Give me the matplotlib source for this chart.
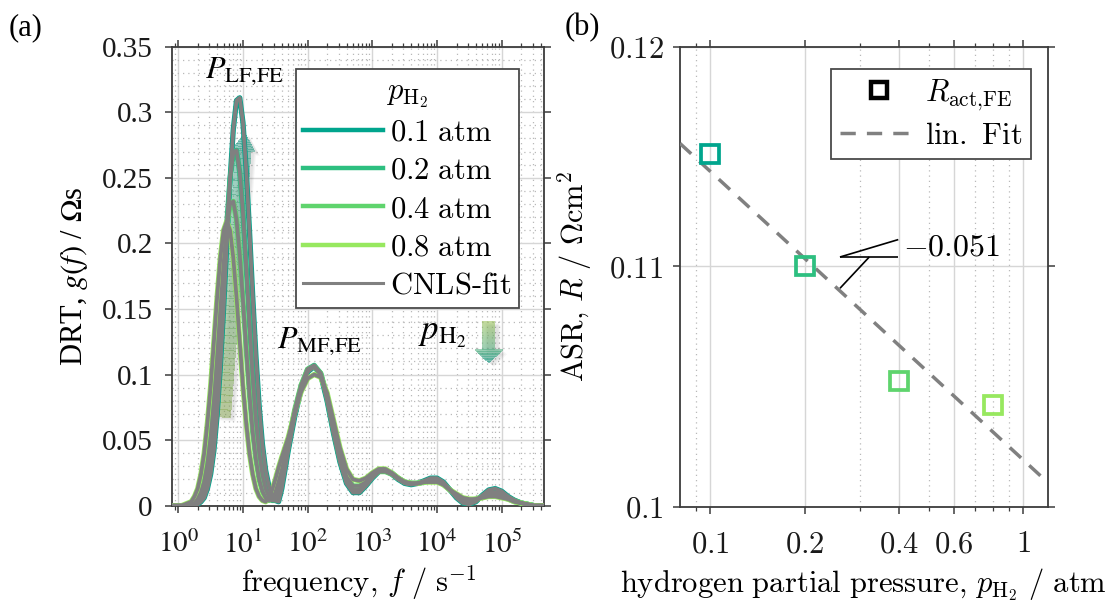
import numpy as np
import matplotlib
matplotlib.use("Agg")
import matplotlib.pyplot as plt
import matplotlib.colors as mcolors
from matplotlib.lines import Line2D
from matplotlib.patches import Polygon
from matplotlib.ticker import FixedLocator, FixedFormatter, NullLocator, NullFormatter

# ---------------- data: panel (a) DRT ----------------
LOG_F = [-0.1, 0.0, 0.05, 0.10, 0.15, 0.20, 0.25, 0.30, 0.35, 0.40, 0.45, 0.50,
         0.55, 0.60, 0.65, 0.70, 0.75, 0.80, 0.85, 0.90, 0.95, 1.00, 1.05, 1.10,
         1.15, 1.20, 1.25, 1.30, 1.35, 1.40, 1.45, 1.50, 1.55, 1.60,
         1.7, 1.8, 1.9, 2.0, 2.1, 2.2, 2.3, 2.4, 2.5, 2.6, 2.7, 2.8, 2.9, 3.0,
         3.1, 3.2, 3.3, 3.4, 3.5, 3.6, 3.7, 3.8, 3.9, 4.0, 4.1, 4.2, 4.3, 4.4,
         4.5, 4.6, 4.7, 4.8, 4.9, 5.0, 5.1, 5.2, 5.3, 5.4, 5.5, 5.6, 5.7]

DRT_01 = [0, 0, 0, 0, 0, 0, 0, 0.001, 0.003, 0.006, 0.013, 0.024,
          0.042, 0.069, 0.106, 0.150, 0.200, 0.248, 0.287, 0.309, 0.311, 0.292, 0.256, 0.210,
          0.160, 0.114, 0.076, 0.047, 0.027, 0.015, 0.007, 0.004, 0.003, 0.013,
          0.042, 0.068, 0.089, 0.102, 0.106, 0.100, 0.080, 0.055, 0.033, 0.017, 0.010, 0.010, 0.015, 0.021,
          0.026, 0.027, 0.024, 0.020, 0.017, 0.016, 0.017, 0.019, 0.021, 0.021, 0.018, 0.012, 0.006, 0.002,
          0.001, 0.003, 0.008, 0.012, 0.013, 0.011, 0.007, 0.004, 0.002, 0.001, 0.0, 0.0, 0.0]

DRT_02 = [0, 0, 0, 0, 0, 0, 0.001, 0.003, 0.006, 0.011, 0.021, 0.037,
          0.060, 0.092, 0.131, 0.174, 0.215, 0.249, 0.269, 0.271, 0.254, 0.223, 0.182, 0.139,
          0.099, 0.066, 0.041, 0.024, 0.013, 0.007, 0.004, 0.004, 0.011, 0.020,
          0.046, 0.071, 0.091, 0.104, 0.107, 0.101, 0.082, 0.057, 0.035, 0.019, 0.012, 0.012, 0.016, 0.022,
          0.026, 0.027, 0.025, 0.021, 0.018, 0.017, 0.017, 0.018, 0.020, 0.020, 0.017, 0.012, 0.007, 0.003,
          0.002, 0.004, 0.007, 0.010, 0.010, 0.009, 0.006, 0.004, 0.002, 0.001, 0.0, 0.0, 0.0]

DRT_04 = [0, 0, 0, 0, 0, 0.001, 0.002, 0.005, 0.010, 0.018, 0.032, 0.052,
          0.079, 0.112, 0.149, 0.184, 0.213, 0.230, 0.232, 0.218, 0.191, 0.156, 0.119, 0.085,
          0.056, 0.035, 0.020, 0.011, 0.006, 0.004, 0.005, 0.010, 0.018, 0.027,
          0.049, 0.073, 0.092, 0.104, 0.106, 0.101, 0.084, 0.060, 0.038, 0.022, 0.015, 0.015, 0.018, 0.023,
          0.026, 0.026, 0.024, 0.021, 0.018, 0.017, 0.017, 0.018, 0.019, 0.019, 0.016, 0.012, 0.008, 0.005,
          0.004, 0.005, 0.007, 0.008, 0.008, 0.007, 0.005, 0.003, 0.002, 0.001, 0.0, 0.0, 0.0]

DRT_08 = [0, 0, 0, 0.001, 0.002, 0.003, 0.007, 0.013, 0.024, 0.040, 0.063, 0.091,
          0.125, 0.159, 0.189, 0.210, 0.217, 0.210, 0.189, 0.159, 0.125, 0.091, 0.063, 0.040,
          0.024, 0.013, 0.007, 0.004, 0.003, 0.006, 0.012, 0.020, 0.029, 0.037,
          0.052, 0.071, 0.087, 0.097, 0.100, 0.098, 0.086, 0.065, 0.044, 0.028, 0.020, 0.019, 0.021, 0.025,
          0.028, 0.028, 0.025, 0.021, 0.018, 0.017, 0.017, 0.018, 0.018, 0.018, 0.016, 0.012, 0.009, 0.006,
          0.005, 0.005, 0.006, 0.007, 0.007, 0.006, 0.005, 0.003, 0.002, 0.001, 0.0, 0.0, 0.0]

SERIES_LABELS = ["0.1 atm", "0.2 atm", "0.4 atm", "0.8 atm"]
FIT_LABEL = "CNLS-fit"
COLORS = ["#00a58d", "#2dbf80", "#5fd46d", "#97e85f"]
FIT_COLOR = "#808080"

YTICKS_A = [0, 0.05, 0.1, 0.15, 0.2, 0.25, 0.3, 0.35]
YTICKLABELS_A = ["0", "0.05", "0.1", "0.15", "0.2", "0.25", "0.3", "0.35"]
XTICKS_A = [1e0, 1e1, 1e2, 1e3, 1e4, 1e5]
XTICKLABELS_A = [r"$10^{0}$", r"$10^{1}$", r"$10^{2}$", r"$10^{3}$", r"$10^{4}$", r"$10^{5}$"]

# ---------------- data: panel (b) ASR ----------------
P_H2 = [0.1, 0.2, 0.4, 0.8]
R_ACT = [0.1150, 0.1100, 0.1051, 0.1041]
XTICKS_B = [0.1, 0.2, 0.4, 0.6, 1.0]
XTICKLABELS_B = [r"$0.1$", r"$0.2$", r"$0.4$", r"$0.6$", r"$1$"]
XMINOR_B = [0.09, 0.3, 0.5, 0.7, 0.8, 0.9]
YTICKS_B = [0.10, 0.11, 0.12]
YTICKLABELS_B = [r"$0.1$", r"$0.11$", r"$0.12$"]
SLOPE_TEXT = r"$-0.051$"

# ---------------- style ----------------
plt.rcParams["font.family"] = ["Liberation Serif", "DejaVu Serif"]
plt.rcParams["mathtext.fontset"] = "stix"
SPINE = "#3c3c3c"
FS = 22

fig = plt.figure(figsize=(11.18, 6.08), dpi=100)
axA = fig.add_axes([0.1541, 0.1683, 0.3328, 0.7549])
axB = fig.add_axes([0.6082, 0.1666, 0.3289, 0.7566])

for ax in (axA, axB):
    for s in ax.spines.values():
        s.set_color(SPINE)
        s.set_linewidth(1.3)
    ax.set_axisbelow(True)
    ax.tick_params(which="both", direction="out", top=True, right=True,
                   color=SPINE, labelsize=21, labelcolor="#1a1a1a")
    ax.tick_params(which="major", length=5, width=1.1)
    ax.tick_params(which="minor", length=3, width=0.9)


def grad_arrow(ax, base, tip, shaft_hw, head_hw, head_len, c0, c1, alpha, n=36, z=1.5):
    bb = ax.get_position()
    W = bb.width * fig.get_figwidth() * fig.dpi
    H = bb.height * fig.get_figheight() * fig.dpi
    b = np.array([base[0] * W, base[1] * H])
    t = np.array([tip[0] * W, tip[1] * H])
    d = t - b
    L = np.hypot(*d)
    u = d / L
    nv = np.array([-u[1], u[0]])
    c0 = np.array(mcolors.to_rgb(c0))
    c1 = np.array(mcolors.to_rgb(c1))
    Ls = L - head_len
    outline = [b - nv * shaft_hw, b + u * Ls - nv * shaft_hw, b + u * Ls - nv * head_hw, t,
               b + u * Ls + nv * head_hw, b + u * Ls + nv * shaft_hw, b + nv * shaft_hw]
    for off, a in (((5, -4), 0.035), ((4, -3), 0.04), ((3, -2), 0.04)):
        pts = np.array(outline) + np.array(off)
        pts[:, 0] /= W
        pts[:, 1] /= H
        ax.add_patch(Polygon(pts, closed=True, fc="black", ec="none", alpha=a,
                             transform=ax.transAxes, zorder=z - 0.1))
    bands = []
    ss = np.linspace(0, Ls, n + 1)
    for s0, s1 in zip(ss[:-1], ss[1:]):
        bands.append((s0, s1, shaft_hw, shaft_hw))
    hs = np.linspace(Ls, L, 9)
    for s0, s1 in zip(hs[:-1], hs[1:]):
        bands.append((s0, s1, head_hw * (L - s0) / head_len, head_hw * (L - s1) / head_len))
    for s0, s1, w0, w1 in bands:
        p0 = b + u * s0
        p1 = b + u * s1
        pts = np.array([p0 - nv * w0, p1 - nv * w1, p1 + nv * w1, p0 + nv * w0])
        pts[:, 0] /= W
        pts[:, 1] /= H
        f = (s0 + s1) / (2 * L)
        col = c0 * (1 - f) + c1 * f
        ax.add_patch(Polygon(pts, closed=True, fc=col, ec="none", alpha=alpha,
                             transform=ax.transAxes, zorder=z, antialiased=False))


# ---------------- panel (a) ----------------
freq = 10 ** np.array(LOG_F)
series = [DRT_01, DRT_02, DRT_04, DRT_08]
for vals, col in zip(series, COLORS):
    axA.plot(freq, vals, color=col, lw=3.8, zorder=3, solid_capstyle="round")
for vals in series:
    axA.plot(freq, vals, color=FIT_COLOR, lw=2.7, zorder=4, solid_capstyle="round")
leg_handles = [Line2D([], [], color=c, lw=3.2) for c in COLORS] + \
              [Line2D([], [], color=FIT_COLOR, lw=2.2)]

axA.set_xscale("log")
axA.set_xlim(0.807, 4.56e5)
axA.set_ylim(0, 0.35)
axA.xaxis.set_major_locator(FixedLocator(XTICKS_A))
axA.xaxis.set_major_formatter(FixedFormatter(XTICKLABELS_A))
minors = [m * 10 ** k for k in range(-1, 6) for m in range(2, 10)]
axA.xaxis.set_minor_locator(FixedLocator(minors))
axA.xaxis.set_minor_formatter(NullFormatter())
axA.yaxis.set_major_locator(FixedLocator(YTICKS_A))
axA.yaxis.set_major_formatter(FixedFormatter(YTICKLABELS_A))
axA.yaxis.set_minor_locator(FixedLocator(list(np.arange(0.01, 0.35, 0.01))))
axA.tick_params(axis="y", which="minor", length=0)
axA.tick_params(axis="x", which="major", pad=13)
axA.tick_params(axis="y", which="major", pad=9)
axA.grid(which="major", color="#d6d6d6", lw=1.0, ls="-")
axA.grid(which="minor", color="#b9b9b9", lw=0.9, ls=(0, (1, 3.2)))

axA.set_xlabel(r"$\mathrm{frequency,}\,f\ /\ \mathrm{s}^{-1}$", fontsize=FS, math_fontfamily="cm")
axA.xaxis.set_label_coords(0.5, -0.125)
axA.set_ylabel(r"DRT, $g(f)$ / $\Omega$s", fontsize=FS)
axA.yaxis.set_label_coords(-0.222, 0.5)

leg_labels = [r"$\mathrm{%s}$" % s.replace(" ", r"\ ") for s in SERIES_LABELS] + \
             [r"$\text{%s}$" % FIT_LABEL]
legA = axA.legend(leg_handles, leg_labels,
                  title=r"$p_{\mathrm{H}_2}$", loc="upper left", bbox_to_anchor=(0.332, 0.951),
                  borderaxespad=0, fontsize=FS, title_fontsize=FS, frameon=True, fancybox=False,
                  framealpha=1, edgecolor="#4a4a4a", handlelength=2.6, handletextpad=0.23,
                  borderpad=0.25, labelspacing=0.3)
legA.get_frame().set_linewidth(1.3)
for t in legA.get_texts():
    t.set_math_fontfamily("cm")
legA.get_title().set_math_fontfamily("cm")
legA.set_zorder(10)

axA.text(0.088, 0.932, r"$P_{\mathrm{LF{,}FE}}$", transform=axA.transAxes, fontsize=23,
         ha="left", va="baseline", zorder=11)
axA.text(0.281, 0.344, r"$P_{\mathrm{MF{,}FE}}$", transform=axA.transAxes, fontsize=23,
         ha="left", va="baseline", zorder=11)
axA.text(0.660, 0.361, r"$p_{\mathrm{H}_2}$", transform=axA.transAxes, fontsize=25,
         ha="left", va="baseline", zorder=11)

grad_arrow(axA, (0.136, 0.193), (0.195, 0.812), 7.5, 11.5, 18, "#8fae55", "#2e9e8c", 0.5)
grad_arrow(axA, (0.851, 0.402), (0.851, 0.311), 6.5, 13.5, 13, "#9cc25a", "#3aa797", 0.6)

# ---------------- panel (b) ----------------
for p, r, col in zip(P_H2, R_ACT, COLORS):
    axB.plot([p], [r], ls="none", marker="s", ms=12.5, mew=2.7, mfc="none", mec=col, zorder=5)

slope, icpt = np.polyfit(np.log10(P_H2), np.log10(R_ACT), 1)
pfit = np.logspace(np.log10(0.08), np.log10(1.19), 50)
axB.plot(pfit, 10 ** (icpt + slope * np.log10(pfit)), color=FIT_COLOR, lw=2.5,
         ls=(0, (4.4, 3.2)), zorder=4)

axB.set_xscale("log")
axB.set_yscale("log")
axB.set_xlim(0.08, 1.196)
axB.set_ylim(0.10, 0.12)
axB.xaxis.set_major_locator(FixedLocator(XTICKS_B))
axB.xaxis.set_major_formatter(FixedFormatter(XTICKLABELS_B))
axB.xaxis.set_minor_locator(FixedLocator(XMINOR_B))
axB.xaxis.set_minor_formatter(NullFormatter())
axB.yaxis.set_major_locator(FixedLocator(YTICKS_B))
axB.yaxis.set_major_formatter(FixedFormatter(YTICKLABELS_B))
axB.yaxis.set_minor_locator(NullLocator())
axB.yaxis.set_minor_formatter(NullFormatter())
axB.tick_params(labelsize=22)
axB.tick_params(axis="x", which="major", pad=12)
axB.tick_params(axis="y", which="major", pad=7)
axB.grid(which="major", color="#d6d6d6", lw=1.0, ls="-")
axB.grid(which="minor", axis="x", color="#b9b9b9", lw=0.9, ls=(0, (1, 3.2)))

axB.set_xlabel(r"$\mathrm{hydrogen\ partial\ pressure,}\,p_{\mathrm{H}_2}\ /\ \mathrm{atm}$",
               fontsize=FS, math_fontfamily="cm")
axB.xaxis.set_label_coords(0.5, -0.13)
axB.set_ylabel(r"$\mathrm{ASR,}\,R\ /\ \Omega\mathrm{cm}^2$", fontsize=FS, math_fontfamily="cm")
axB.yaxis.set_label_coords(-0.235, 0.5)

hB = [Line2D([], [], ls="none", marker="s", ms=11.5, mew=3.2, mfc="none", mec="black"),
      Line2D([], [], color=FIT_COLOR, lw=2.5, ls=(0, (4.4, 3.2)))]
legB = axB.legend(hB, [r"$R_{\mathrm{act{,}FE}}$", r"$\mathrm{lin.\ Fit}$"], loc="upper right",
                  bbox_to_anchor=(0.954, 0.9515), borderaxespad=0, fontsize=FS, frameon=True,
                  fancybox=False, framealpha=1, edgecolor="#4a4a4a", handlelength=2.6,
                  handletextpad=0.2, borderpad=0.28, labelspacing=0.3, numpoints=1)
legB.get_frame().set_linewidth(1.3)
for t in legB.get_texts():
    t.set_math_fontfamily("cm")

# slope callout
A = (0.4351, 0.5428)
Bp = (0.5937, 0.5807)
C = (0.5937, 0.5428)
D = (0.5148, 0.5428)
E = (0.4351, 0.4748)
for p0, p1 in ((A, Bp), (A, C), (D, E)):
    axB.plot([p0[0], p1[0]], [p0[1], p1[1]], color="black", lw=1.2, transform=axB.transAxes,
             zorder=6, solid_capstyle="butt")
axB.text(0.6065, 0.562, SLOPE_TEXT, transform=axB.transAxes, fontsize=23, ha="left",
         va="center", math_fontfamily="cm", zorder=7)

fig.text(0.008, 0.978, "(a)", fontsize=FS, ha="left", va="top")
fig.text(0.505, 0.978, "(b)", fontsize=FS, ha="left", va="top")

fig.canvas.draw()
for lbl in axB.get_xticklabels() + axB.get_yticklabels():
    lbl.set_math_fontfamily("cm")

fig.savefig("out.png", dpi=100)
